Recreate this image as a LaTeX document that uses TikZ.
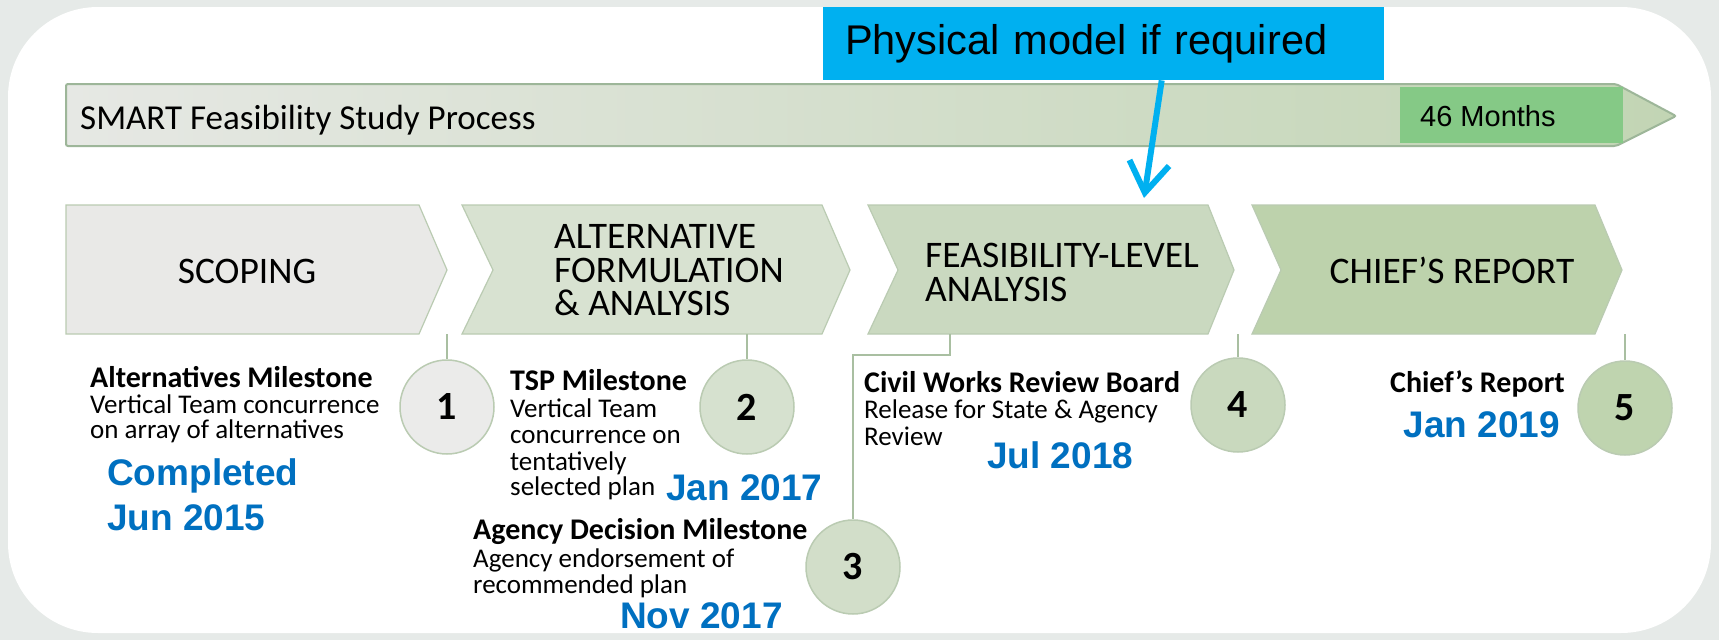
\documentclass[tikz,border=0pt]{standalone}
\usepackage{fontspec}
\setmainfont{Carlito}
\newfontfamily\arialf{Liberation Sans}
\usetikzlibrary{arrows.meta}
\definecolor{bgc}{HTML}{E6EAE8}
\definecolor{cyanbox}{HTML}{00B0F0}
\definecolor{datec}{HTML}{0070C0}
\definecolor{barl}{HTML}{E6E8E4}
\definecolor{barr}{HTML}{C2D5B4}
\definecolor{barline}{HTML}{9DB699}
\definecolor{monthg}{HTML}{85C986}
\definecolor{chevline}{HTML}{BACBB2}
\definecolor{ch1}{HTML}{E9E9E7}
\definecolor{ch2}{HTML}{D8E2D1}
\definecolor{ch3}{HTML}{CAD9C0}
\definecolor{ch4}{HTML}{BDD2AC}
\definecolor{ci1}{HTML}{EBEBEA}
\definecolor{ci2}{HTML}{D6E1CF}
\definecolor{ci3}{HTML}{D2DEC9}
\definecolor{ci4}{HTML}{C9D9BE}
\definecolor{ci5}{HTML}{BFD4AF}
\definecolor{connc}{HTML}{A9BFA1}
\newcommand\fbody{\fontsize{27}{27}\selectfont}
\newcommand\fbodyb{\fontsize{30}{30}\selectfont\bfseries}
\newcommand\fchev{\fontsize{37.5}{33.5}\selectfont}
\newcommand\fnum{\fontsize{40}{40}\selectfont\bfseries}
\newcommand\fdate{\arialf\fontsize{37}{37}\selectfont\bfseries}
\tikzset{
  chevshape/.style={draw=chevline, line width=1.2pt},
  msc/.style={circle, draw=chevline, line width=1.5pt, minimum size=94pt, inner sep=0pt, font=\fnum},
  bodyt/.style={anchor=base west, inner sep=0pt, font=\fbody},
  boldt/.style={anchor=base west, inner sep=0pt, font=\fbodyb},
  datet/.style={anchor=base west, inner sep=0pt, font=\fdate, text=datec},
  chevt/.style={anchor=base west, inner sep=0pt, font=\fchev},
  chevblock/.style={anchor=north west, inner sep=0pt, align=left, font=\fchev},
  conn/.style={draw=connc, line width=1.3pt},
}
\begin{document}
\begin{tikzpicture}[x=1pt,y=-1pt]
\useasboundingbox (0,0) rectangle (1719,640);
\fill[bgc] (0,0) rectangle (1719,640);
\fill[white, rounded corners=90pt] (8,7) rectangle (1711,633);

% top process bar
\shade[left color=barl, right color=barr, draw=barline, line width=2pt, rounded corners=2pt]
  (66,84) -- (1616,84) -- (1676,116) -- (1616,146) -- (66,146) -- cycle;
\node[fill=monthg, anchor=north west, minimum width=223pt, minimum height=56pt, inner sep=0pt] (months) at (1400,87) {};
\node[anchor=base west, inner sep=0pt, font=\arialf\fontsize{29}{29}\selectfont] (monthst) at (1420,126) {46 Months};
\node[chevt, font=\fontsize{35}{35}\selectfont] (bart) at (80,129) {SMART Feasibility Study Process};

% callout
\node[fill=cyanbox, anchor=north west, minimum height=73pt, text width=517pt, inner xsep=22pt, inner ysep=0pt, align=left,
      font=\arialf\fontsize{41.5}{41.5}\selectfont] (phys) at (823,7) {Physical model if required};
\coordinate (atip) at (1144,198);
\draw[cyanbox, line width=6pt, -{Straight Barb[length=30pt,width=40pt,line width=6pt]}] ([xshift=58pt]phys.south) -- (atip);

% chevrons
\filldraw[chevshape, fill=ch1] (66,205) -- (419,205) -- (447,270) -- (419,334) -- (66,334) -- cycle;
\filldraw[chevshape, fill=ch2] (462,205) -- (822,205) -- (850,270) -- (822,334) -- (462,334) -- (493,270) -- cycle;
\filldraw[chevshape, fill=ch3] (868,205) -- (1208,205) -- (1234,270) -- (1208,334) -- (868,334) -- (898,270) -- cycle;
\filldraw[chevshape, fill=ch4] (1252,205) -- (1595,205) -- (1622,270) -- (1595,334) -- (1252,334) -- (1281,270) -- cycle;

\node[chevt, anchor=base] (scop) at (247,283) {SCOPING};
\node[chevblock] (alt) at (554,224.3) {ALTERNATIVE\\FORMULATION\\\& ANALYSIS};
\node[chevblock] (fea) at (925,243.3) {FEASIBILITY-LEVEL\\ANALYSIS};
\node[chevt, anchor=base] (chief) at (1452,283) {CHIEF’S REPORT};

% milestone circles
\node[msc, fill=ci1] (m1) at (447,407) {1};
\node[msc, fill=ci2] (m2) at (747,407) {2};
\node[msc, fill=ci3] (m3) at (853,567) {3};
\node[msc, fill=ci4] (m4) at (1238,405) {4};
\node[msc, fill=ci5] (m5) at (1625,408) {5};

\coordinate (k1) at (447,334);
\coordinate (k2) at (747,334);
\coordinate (k3) at (950,334);
\coordinate (k4) at (1238,334);
\coordinate (k5) at (1625,334);
\draw[conn] (k1) -- (m1.north);
\draw[conn] (k2) -- (m2.north);
\draw[conn] (k3) -- ++(0,21) -| (m3.north);
\draw[conn] (k4) -- (m4.north);
\draw[conn] (k5) -- (m5.north);

% milestone texts
\node[boldt] (a1) at (90,387) {Alternatives Milestone};
\node[bodyt] (a2) at (90,413) {Vertical Team concurrence};
\node[bodyt] (a3) at (90,438) {on array of alternatives};
\node[datet] (ad1) at (107,485) {Completed};
\node[datet] (ad2) at (107,530) {Jun 2015};

\node[boldt] (b1) at (510,390) {TSP Milestone};
\node[bodyt] (b2) at (510,417) {Vertical Team};
\node[bodyt] (b3) at (510,443) {concurrence on};
\node[bodyt] (b4) at (510,470) {tentatively};
\node[bodyt] (b5) at (510,495) {selected plan};
\node[datet] (bd) at (666,500) {Jan 2017};

\node[boldt] (c1) at (473,539) {Agency Decision Milestone};
\node[bodyt] (c2) at (473,567) {Agency endorsement of};
\node[bodyt] (c3) at (473,593) {recommended plan};
\node[datet] (cd) at (620,628) {Nov 2017};

\node[boldt] (d1) at (864,392) {Civil Works Review Board};
\node[bodyt] (d2) at (864,418) {Release for State \& Agency};
\node[bodyt] (d3) at (864,445) {Review};
\node[datet] (dd) at (987,468) {Jul 2018};

\node[boldt, anchor=base east] (e1) at (1565,392) {Chief’s Report};
\node[datet, anchor=base east] (ed) at (1560,437) {Jan 2019};
\end{tikzpicture}
\end{document}
